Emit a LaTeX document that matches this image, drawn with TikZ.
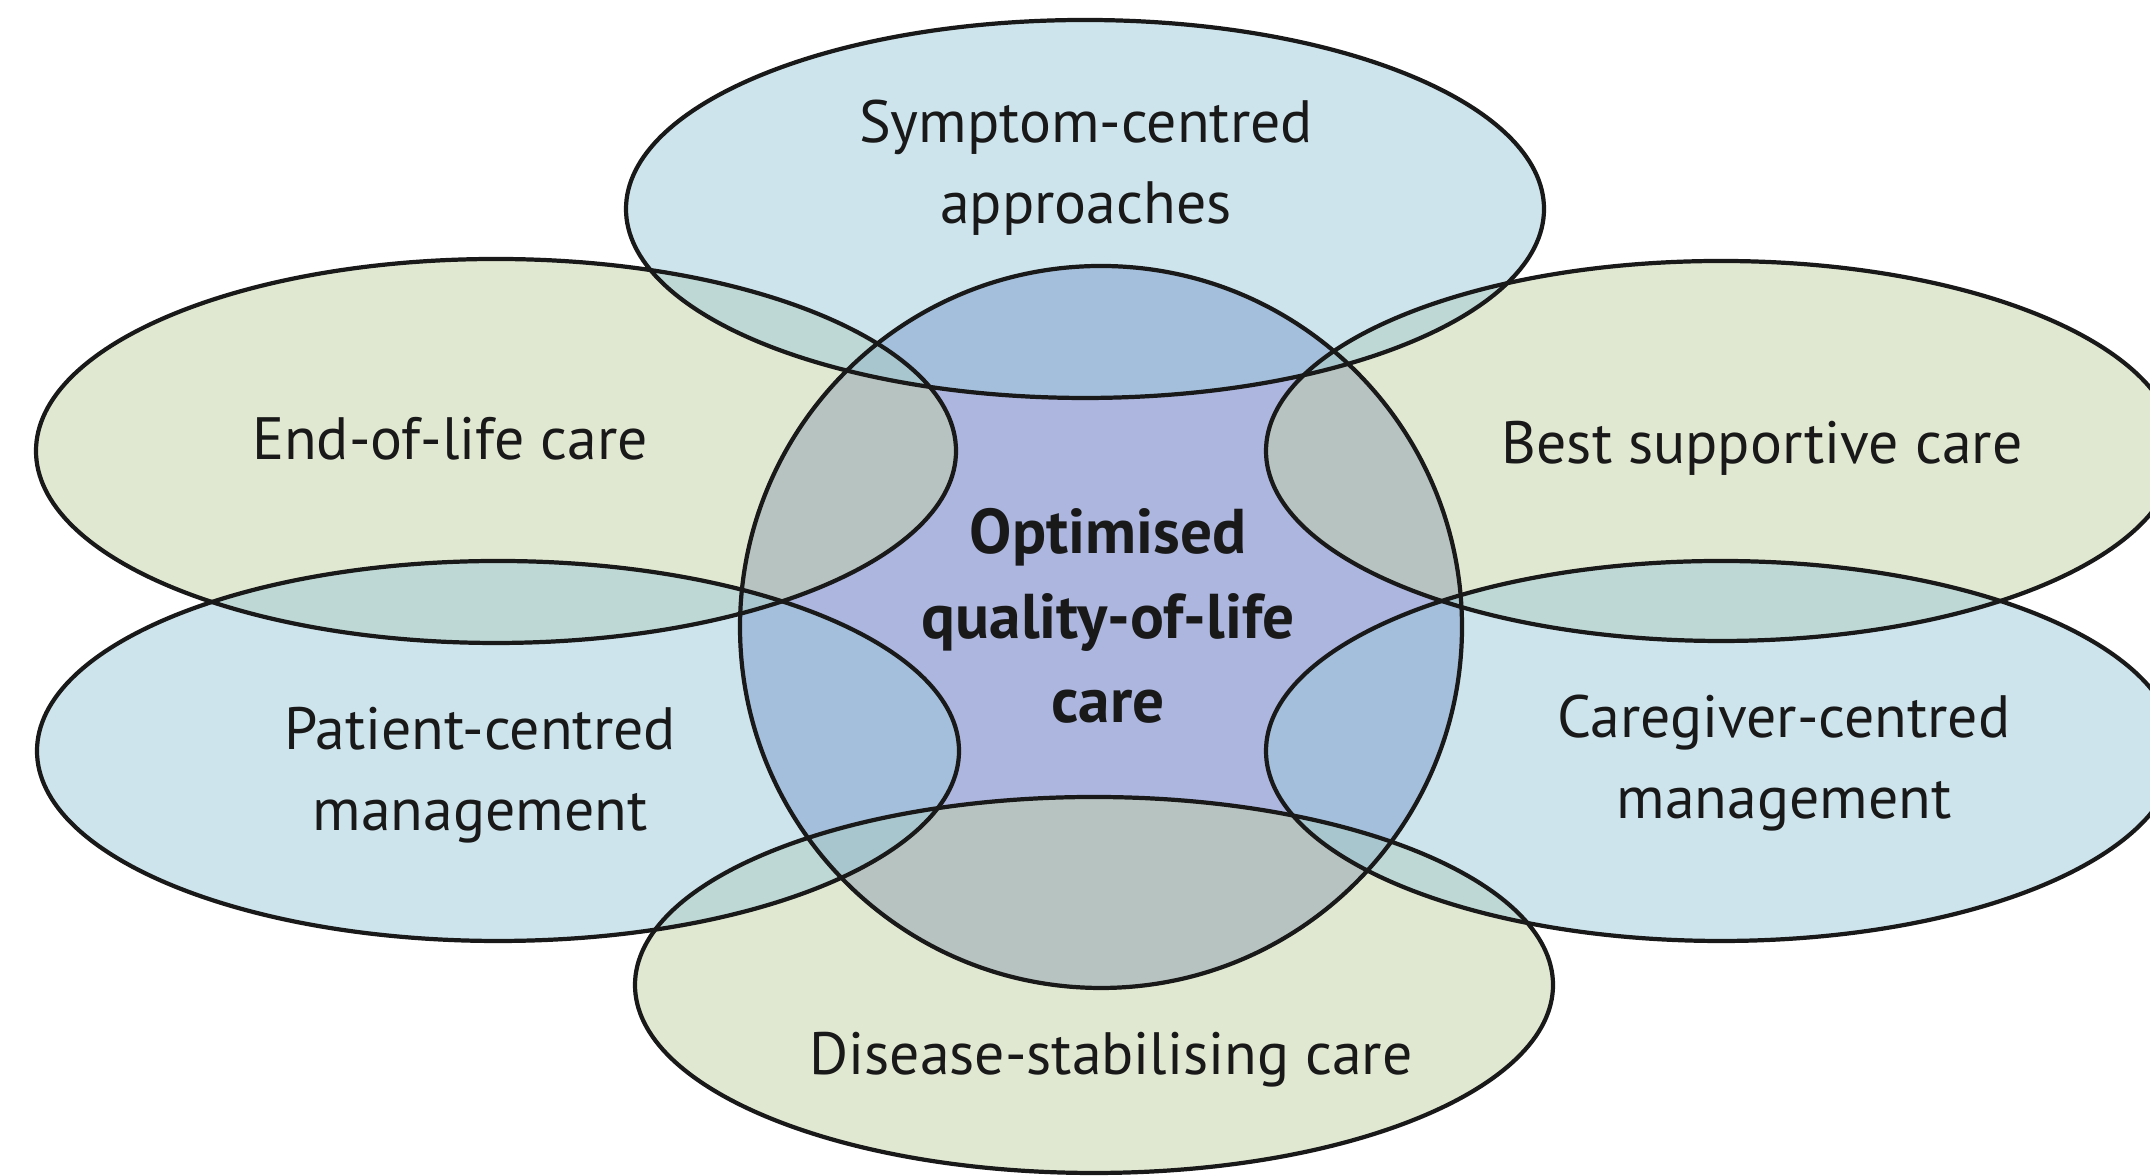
\documentclass[tikz,border=0pt]{standalone}
\usepackage{fontspec}
\setmainfont{PT Sans}
\definecolor{sage}{RGB}{195,209,165}
\definecolor{sky}{RGB}{155,201,217}
\definecolor{coreblue}{RGB}{172,182,222}
\begin{document}
\begin{tikzpicture}[
   setfill/.style={fill=#1, fill opacity=0.5},
   setline/.style={draw=black!90, line width=1.2pt},
   settext/.style={align=center, text=black!90, font=\fontsize{17}{23}\selectfont}]
\path[use as bounding box, clip] (0,0) rectangle (21.5,11.76);
% core circle under the six sets
\fill[coreblue] (11.01,5.49) circle (3.61);
\foreach \cx/\cy/\rx/\ry/\col in {4.96/7.25/4.60/1.92/sage, 17.21/7.25/4.55/1.90/sage,
      10.94/1.91/4.59/1.88/sage, 10.85/9.67/4.59/1.89/sky,
      4.98/4.25/4.61/1.90/sky, 17.21/4.25/4.55/1.90/sky}
   \fill[setfill=\col] (\cx,\cy) ellipse [x radius=\rx, y radius=\ry];
% outlines last
\draw[setline] (11.01,5.49) circle (3.61);
\foreach \cx/\cy/\rx/\ry in {4.96/7.25/4.60/1.92, 17.21/7.25/4.55/1.90,
      10.94/1.91/4.59/1.88, 10.85/9.67/4.59/1.89,
      4.98/4.25/4.61/1.90, 17.21/4.25/4.55/1.90}
   \draw[setline] (\cx,\cy) ellipse [x radius=\rx, y radius=\ry];
\node[settext] (symptom) at (10.86,10.08) {Symptom-centred\\approaches};
\node[settext] (endoflife) at (4.50,7.37) {End-of-life care};
\node[settext] (bestcare) at (17.62,7.28) {Best supportive care};
\node[settext] (patient) at (4.80,4.01) {Patient-centred\\management};
\node[settext] (caregiver) at (17.84,4.13) {Caregiver-centred\\management};
\node[settext] (disease) at (11.11,1.16) {Disease-stabilising care};
\node[settext, font=\bfseries\fontsize{18}{24}\selectfont] (core) at (11.08,5.60) {Optimised\\quality-of-life\\care};
\end{tikzpicture}
\end{document}
